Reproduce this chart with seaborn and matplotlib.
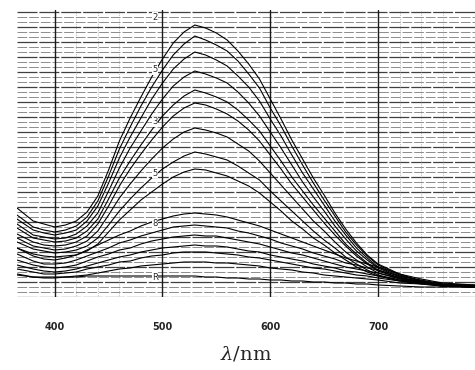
import numpy as np
import pandas as pd
import matplotlib
matplotlib.use('Agg')
import matplotlib.pyplot as plt
import seaborn as sns

# wavelength grid (nm) and intensities (a.u.)
wavelength = [365, 380, 390, 400, 410, 420, 430, 440, 450, 460, 470, 480, 490,
              500, 510, 520, 530, 540, 550, 560, 570, 580, 590, 600, 610, 620,
              630, 640, 650, 660, 670, 680, 690, 700, 720, 740, 760, 790]

curve_01 = [89, 76, 73, 70, 72, 76, 85, 101, 127, 156, 179, 200, 220, 238, 254, 265, 272, 269, 264,
            257, 246, 233, 218, 198, 178, 157, 138, 119, 102, 84, 68, 54, 42, 33, 23, 16, 12, 10]
curve_02 = [82, 70, 67, 65, 67, 71, 80, 96, 121, 148, 170, 191, 210, 227, 242, 253, 261, 257, 252,
            246, 236, 223, 209, 189, 171, 151, 132, 114, 97, 81, 65, 52, 41, 32, 22, 16, 12, 10]
curve_03 = [78, 67, 64, 62, 64, 67, 76, 91, 114, 139, 160, 179, 198, 214, 228, 238, 245, 242, 237,
            231, 221, 210, 196, 178, 161, 142, 124, 108, 92, 76, 62, 49, 39, 30, 21, 16, 12, 10]
curve_04 = [73, 62, 60, 58, 59, 63, 71, 84, 106, 129, 149, 166, 183, 198, 211, 220, 226, 223, 219,
            214, 205, 194, 181, 165, 149, 132, 115, 100, 86, 71, 58, 46, 37, 29, 20, 15, 11, 10]
curve_05 = [69, 59, 57, 55, 56, 59, 66, 78, 98, 119, 136, 152, 167, 181, 192, 201, 207, 204, 200,
            195, 187, 177, 166, 151, 136, 120, 106, 92, 79, 66, 53, 43, 34, 27, 19, 15, 11, 10]
curve_06 = [63, 55, 52, 51, 52, 55, 61, 73, 91, 111, 128, 143, 157, 170, 181, 189, 194, 192, 188,
            183, 176, 167, 156, 142, 128, 113, 100, 87, 74, 62, 51, 41, 33, 26, 19, 14, 11, 10]
curve_07 = [59, 51, 49, 47, 48, 51, 56, 66, 82, 99, 113, 126, 138, 149, 158, 165, 169, 167, 164,
            160, 153, 146, 136, 124, 112, 100, 88, 76, 66, 55, 45, 37, 30, 24, 18, 14, 11, 10]
curve_08 = [55, 48, 46, 44, 45, 47, 51, 59, 72, 86, 98, 109, 119, 128, 135, 141, 145, 143, 140,
            137, 131, 124, 117, 106, 96, 86, 76, 66, 57, 49, 40, 33, 27, 22, 17, 14, 11, 10]
curve_09 = [49, 43, 41, 40, 41, 42, 46, 53, 65, 77, 87, 97, 105, 113, 120, 125, 128, 127, 124,
            121, 116, 111, 104, 95, 86, 76, 68, 59, 52, 44, 37, 30, 25, 21, 16, 13, 11, 10]
curve_10 = [49, 41, 38, 37, 39, 42, 47, 52, 57, 62, 66, 71, 75, 78, 81, 83, 84, 83, 82,
            80, 77, 74, 71, 67, 63, 59, 55, 51, 47, 43, 39, 36, 33, 30, 23, 18, 14, 12]
curve_11 = [43, 36, 33, 33, 34, 37, 41, 45, 49, 54, 57, 61, 64, 67, 70, 71, 72, 71, 70,
            69, 66, 64, 61, 58, 54, 51, 48, 44, 41, 38, 34, 32, 29, 27, 21, 17, 13, 12]
curve_12 = [37, 32, 30, 29, 30, 32, 36, 40, 43, 47, 49, 53, 56, 58, 60, 61, 62, 61, 61,
            59, 57, 55, 53, 50, 47, 44, 42, 39, 36, 33, 30, 28, 26, 24, 19, 16, 13, 11]
curve_13 = [32, 28, 26, 25, 26, 28, 31, 34, 37, 40, 42, 45, 47, 49, 50, 51, 52, 51, 51,
            50, 48, 46, 45, 42, 40, 38, 36, 33, 31, 29, 26, 25, 23, 21, 17, 15, 12, 11]
curve_14 = [28, 25, 23, 23, 24, 25, 28, 30, 32, 35, 36, 39, 41, 42, 44, 45, 45, 45, 44,
            43, 42, 40, 39, 37, 35, 33, 31, 29, 28, 26, 24, 22, 21, 19, 16, 14, 12, 11]
curve_15 = [23, 20, 19, 19, 20, 21, 22, 24, 26, 28, 29, 31, 32, 33, 34, 35, 35, 35, 34,
            34, 33, 32, 31, 29, 28, 27, 25, 24, 22, 21, 20, 19, 18, 17, 14, 13, 11, 11]
curve_16 = [22, 20, 20, 20, 20, 20, 21, 21, 21, 21, 21, 21, 21, 21, 21, 21, 21, 20, 20,
            19, 19, 18, 18, 17, 17, 16, 16, 15, 15, 14, 14, 13, 13, 12, 11, 10, 10, 10]

curves = [curve_01, curve_02, curve_03, curve_04, curve_05, curve_06, curve_07, curve_08,
          curve_09, curve_10, curve_11, curve_12, curve_13, curve_14, curve_15, curve_16]

curve_tags = ['2', '5', '3', '5', '8', 'R']
tag_y = [280, 227, 175, 124, 73, 20]

rows = []
for k, vals in enumerate(curves):
    for w, v in zip(wavelength, vals):
        rows.append((w, v, k))
df = pd.DataFrame(rows, columns=['nm', 'I', 'curve'])

sns.set_style('white')
plt.rcParams['font.family'] = ['DejaVu Sans']
plt.rcParams['mathtext.fontset'] = 'dejavuserif'

fig = plt.figure(figsize=(4.75, 3.70), dpi=100)
ax = fig.add_axes([17 / 475, 73 / 370, 458 / 475, 287 / 370])

# chart-paper background
for i, y in enumerate(np.arange(0, 290, 5)):
    if i % 3 == 0:
        ax.axhline(y, color='0.25', lw=0.9, ls=(0, (16, 1.5)), zorder=0)
    else:
        ax.axhline(y, color='0.55', lw=0.7, ls=(0, (10, 2)), zorder=0)
for x in [400, 500, 600, 700]:
    ax.axvline(x, color='0.1', lw=1.0, zorder=1)
for x in [420, 440, 460, 720, 740, 760]:
    ax.axvline(x, color='0.55', lw=0.5, ls=':', zorder=1)

sns.lineplot(data=df, x='nm', y='I', units='curve', estimator=None,
             color='black', lw=0.8, ax=ax, zorder=3)

for t, y in zip(curve_tags, tag_y):
    ax.text(493, y, t, fontsize=6, ha='center', va='center', zorder=4,
            bbox=dict(facecolor='white', edgecolor='none', pad=0.3))

ax.set_xlim(365, 790)
ax.set_ylim(0, 287)
ax.set_xticks([400, 500, 600, 700])
ax.set_yticks([])
ax.tick_params(axis='x', length=0, pad=18, labelsize=7)
for lab in ax.get_xticklabels():
    lab.set_fontweight('bold')
ax.set_ylabel('')
ax.set_xlabel(r'$\lambda$/nm', fontsize=14, family='DejaVu Serif', labelpad=9)
for s in ax.spines.values():
    s.set_visible(False)

fig.savefig('out.png', dpi=100)
